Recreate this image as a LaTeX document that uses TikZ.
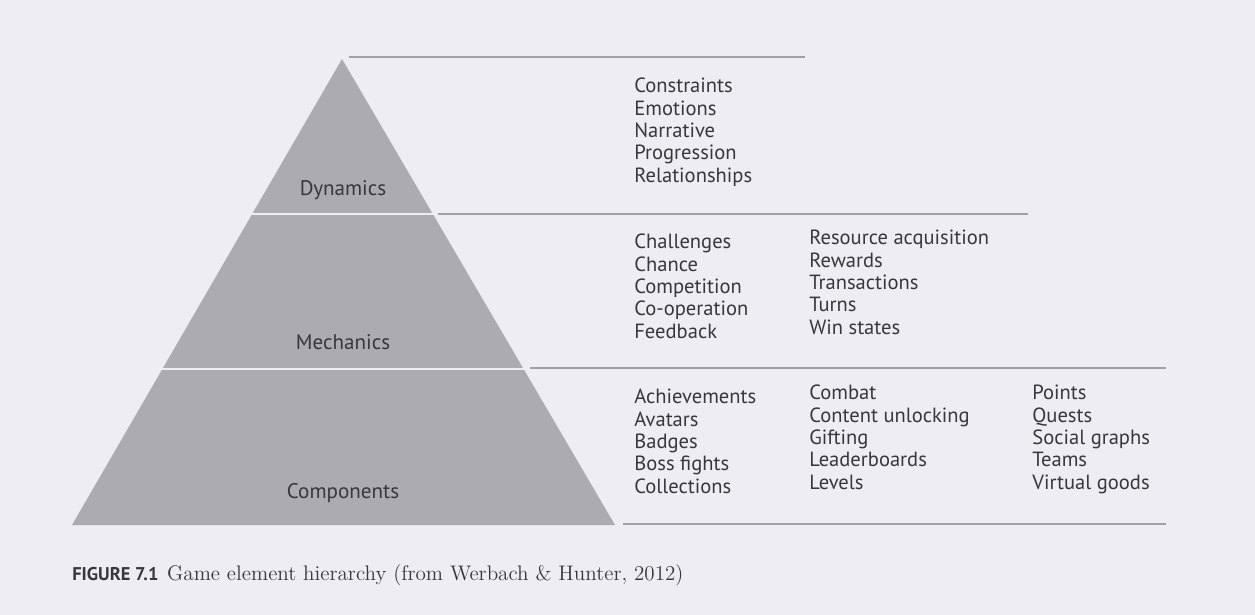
\documentclass[tikz,border=0pt]{standalone}
\usepackage{fontspec}
\setsansfont{PT Sans}
\usetikzlibrary{positioning}

\definecolor{paper}{HTML}{EEEEF2}
\definecolor{stone}{HTML}{ABABB1}
\definecolor{rule}{HTML}{A0A0A6}
\definecolor{ink}{HTML}{38383C}

\begin{document}
\begin{tikzpicture}[
  x=0.02cm, y=-0.02cm,
  tier/.style={font=\sffamily\fontsize{12}{14}\selectfont, text=ink, inner sep=0pt},
  items/.style={font=\sffamily\fontsize{11.7}{12.7}\selectfont, text=ink, inner sep=0pt,
    align=left, anchor=base west},
  sep/.style={draw=rule, line width=0.6pt},
  cut/.style={draw=paper, line width=0.9pt},
]
\fill[paper] (0,0) rectangle (1255,615);
\useasboundingbox (0,0) rectangle (1255,615);

% the pyramid
\coordinate (apex) at (342,59);
\coordinate (baseL) at (72,525);
\coordinate (baseR) at (615,525);
\fill[stone] (apex) -- (baseL) -- (baseR) -- cycle;

\coordinate (dynL) at (252,214);
\coordinate (dynR) at (434,214);
\coordinate (mechL) at (162,369);
\coordinate (mechR) at (525,369);
\draw[cut] (dynL) -- (dynR);
\draw[cut] (mechL) -- (mechR);

% rules on the right
\coordinate (r0a) at (349,57);   \coordinate (r0b) at (805,57);
\coordinate (r1a) at (438,214);  \coordinate (r1b) at (1028,214);
\coordinate (r2a) at (530,368);  \coordinate (r2b) at (1166,368);
\coordinate (r3a) at (623,524);  \coordinate (r3b) at (1166,524);
\draw[sep] (r0a) -- (r0b);
\draw[sep] (r1a) -- (r1b);
\draw[sep] (r2a) -- (r2b);
\draw[sep] (r3a) -- (r3b);

\node[tier] (dynamics) at (343,190) {Dynamics};
\node[tier] (mechanics) at (343,342) {Mechanics};
\node[tier] (components) at (343,493) {Components};

% lists hang from the baseline of their last line
\node[items] (dynlist) at (634,182)
  {Constraints\\Emotions\\Narrative\\Progression\\Relationships};

\node[items] (mechA) at (634,338)
  {Challenges\\Chance\\Competition\\Co-operation\\Feedback};
\node[items] (mechB) at (809,334)
  {Resource acquisition\\Rewards\\Transactions\\Turns\\Win states};

\node[items] (compA) at (634,493)
  {Achievements\\Avatars\\Badges\\Boss fights\\Collections};
\node[items] (compB) at (809,489)
  {Combat\\Content unlocking\\Gifting\\Leaderboards\\Levels};
\node[items] (compC) at (1032,489)
  {Points\\Quests\\Social graphs\\Teams\\Virtual goods};

\node[anchor=base west, inner sep=0pt, text=ink] (caption) at (72,580)
  {{\sffamily\bfseries\fontsize{10.5}{12}\selectfont FIGURE 7.1}\hspace{0.5em}%
   \fontsize{12}{14}\selectfont Game element hierarchy (from Werbach \& Hunter, 2012)};
\end{tikzpicture}
\end{document}
